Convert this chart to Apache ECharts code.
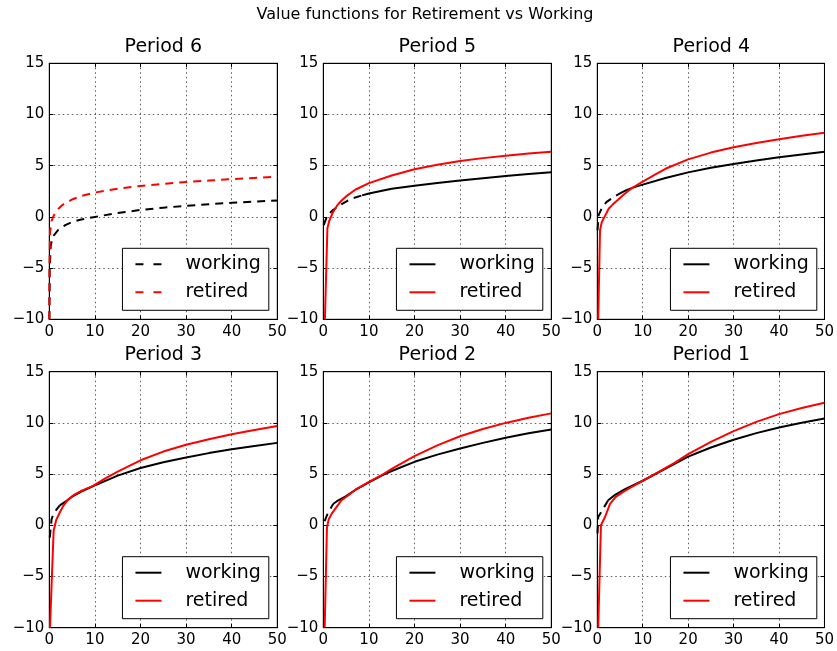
<!DOCTYPE html>
<html><head><meta charset="utf-8">
<script src="https://cdn.jsdelivr.net/npm/echarts@6/dist/echarts.min.js"></script>
<style>html,body{margin:0;padding:0;background:#fff}#c{width:837px;height:651px}</style>
</head><body><div id="c"></div>
<script>
const SUPTITLE = 'Value functions for Retirement vs Working';
const PERIODS = ['Period 6', 'Period 5', 'Period 4', 'Period 3', 'Period 2', 'Period 1'];
const LEGEND_LABELS = ['working', 'retired'];
const X_MIN = 0, X_MAX = 50, X_STEP = 10;
const Y_MIN = -10, Y_MAX = 15, Y_STEP = 5;

// working value function, pairs [wealth, value]
const work6 = [[0.02,-10],[0.1,-5.0],[0.3,-2.9],[0.6,-2.2],[1,-1.8],[2,-1.25],[3.5,-0.8],[5,-0.5],[7,-0.25],[10,0],[15,0.38],[20,0.68],[25,0.9],[30,1.08],[35,1.24],[40,1.37],[45,1.49],[50,1.6]];
const work5 = [[0.1,-0.8],[0.75,0.0],[1.5,0.4],[2.2,0.7],[3.7,1.16],[5.2,1.55],[7,1.9],[8.5,2.1],[10,2.28],[15,2.75],[20,3.05],[25,3.32],[30,3.56],[35,3.78],[40,3.99],[45,4.18],[50,4.35]];
const work4 = [[0.05,-1.3],[0.3,0.2],[1,0.85],[2,1.45],[3.5,1.9],[5,2.3],[6.4,2.62],[8,2.88],[10,3.15],[15,3.8],[20,4.35],[25,4.8],[30,5.17],[35,5.5],[40,5.82],[45,6.1],[50,6.37]];
const work3 = [[0.1,-1.2],[0.5,0.6],[1,1.2],[2.3,1.95],[3.8,2.4],[5,2.8],[7,3.3],[10,3.9],[15,4.85],[20,5.6],[25,6.15],[30,6.62],[35,7.05],[40,7.42],[45,7.75],[50,8.05]];
const work2 = [[0.3,0.4],[1,1.2],[2.2,2.1],[3,2.35],[4,2.6],[5,2.85],[7,3.45],[10,4.2],[13,4.9],[15,5.3],[20,6.2],[25,6.9],[30,7.5],[35,8.05],[40,8.55],[45,8.98],[50,9.36]];
const work1 = [[0.05,-0.8],[0.2,0.8],[1,1.4],[2.4,2.45],[4,3.0],[6,3.5],[10,4.35],[14,5.3],[17,6.0],[20,6.7],[25,7.6],[30,8.35],[35,9.0],[40,9.56],[45,10.02],[50,10.44]];

// retired value function, pairs [wealth, value]
const ret6 = [[0.01,-10],[0.05,-4.5],[0.15,-1.5],[0.5,-0.4],[1,0.15],[2,0.8],[3,1.2],[5,1.7],[7,2.05],[10,2.38],[15,2.75],[20,3.02],[25,3.23],[30,3.41],[35,3.55],[40,3.68],[45,3.8],[50,3.92]];
const ret5 = [[0.35,-10],[0.9,-1.1],[1.3,-0.4],[2,0.35],[3,1.1],[4,1.6],[5,2.0],[7,2.65],[10,3.3],[15,4.05],[20,4.65],[25,5.1],[30,5.46],[35,5.74],[40,5.97],[45,6.18],[50,6.37]];
const ret4 = [[0.2,-10],[0.6,-1.3],[1,-0.5],[1.7,0.1],[2.5,0.8],[3.5,1.25],[4.5,1.65],[5.7,2.14],[7,2.6],[8,2.92],[10,3.45],[13,4.2],[15,4.7],[20,5.62],[25,6.28],[30,6.8],[35,7.22],[40,7.58],[45,7.92],[50,8.22]];
const ret3 = [[0.15,-10],[0.95,-0.55],[1.5,0.5],[2.35,1.3],[3,1.85],[4,2.45],[5.3,2.94],[7,3.35],[9.6,3.85],[12,4.5],[15,5.25],[20,6.35],[25,7.2],[30,7.86],[35,8.4],[40,8.9],[45,9.3],[50,9.69]];
const ret2 = [[0.3,-10],[0.8,-0.2],[1.2,0.6],[1.85,1.14],[3,1.85],[4,2.45],[5,2.77],[7,3.45],[10,4.24],[13,4.96],[15,5.5],[20,6.75],[25,7.8],[30,8.7],[35,9.4],[40,10.0],[45,10.5],[50,10.93]];
const ret1 = [[0.2,-10],[0.8,0.0],[1.7,0.81],[2.8,2.1],[4,2.75],[5.7,3.26],[7,3.6],[10,4.35],[14,5.35],[17,6.1],[20,6.95],[25,8.15],[30,9.2],[35,10.1],[40,10.86],[45,11.45],[50,11.97]];

// wealth from which the working curve is drawn solid (null = dashed throughout)
const SOLID_FROM = [null, 8.5, 5, 2.3, 2.2, 2.4];

const WORK = [work6, work5, work4, work3, work2, work1];
const RET = [ret6, ret5, ret4, ret3, ret2, ret1];

// ---- layout ----
const W = 837, H = 651;
const COL_LEFT = [49.3, 323.3, 597.3];
const ROW_TOP = [63.3, 371.7];
const GW = 228, GH = 256;
const FONT = 'DejaVu Sans';
const BLACK = '#000000', RED = '#ff0000';
const DASH = [8, 6];
const DASH_ICON = 'path://M0,0H8V2H0ZM18,0H26V2H18Z';

const grids = [], xAxes = [], yAxes = [], series = [], legends = [], titles = [];
titles.push({ text: SUPTITLE, left: 425, top: 7, textAlign: 'center', padding: 0,
  textStyle: { fontFamily: FONT, fontSize: 16, fontWeight: 'normal', color: BLACK } });

const minus = v => String(v).replace('-', '\u2212');

for (let i = 0; i < 6; i++) {
  const r = Math.floor(i / 3), c = i % 3;
  const left = COL_LEFT[c], top = ROW_TOP[r];
  grids.push({ left, top, width: GW, height: GH, show: true, borderColor: BLACK, borderWidth: 1, backgroundColor: '#fff', containLabel: false });
  titles.push({ text: PERIODS[i], left: left + GW / 2, top: top - 26, textAlign: 'center', padding: 0,
    textStyle: { fontFamily: FONT, fontSize: 19, fontWeight: 'normal', color: BLACK } });
  const tick = { show: true, inside: true, length: 4, lineStyle: { color: BLACK, width: 1 } };
  const split = { show: true, lineStyle: { color: '#333', width: 0.8, type: [1.5, 3] } };
  xAxes.push({ gridIndex: i, type: 'value', min: X_MIN, max: X_MAX, interval: X_STEP, position: 'bottom',
    axisLine: { show: true, onZero: false, lineStyle: { color: BLACK } }, axisTick: tick, splitLine: split,
    axisLabel: { show: true, margin: 5, fontFamily: FONT, fontSize: 15, color: BLACK, formatter: minus } });
  xAxes.push({ gridIndex: i, type: 'value', min: X_MIN, max: X_MAX, interval: X_STEP, position: 'top',
    axisLine: { show: true, onZero: false, lineStyle: { color: BLACK } }, axisTick: tick, splitLine: { show: false }, axisLabel: { show: false } });
  yAxes.push({ gridIndex: i, type: 'value', min: Y_MIN, max: Y_MAX, interval: Y_STEP, position: 'left',
    axisLine: { show: true, onZero: false, lineStyle: { color: BLACK } }, axisTick: tick, splitLine: split,
    axisLabel: { show: true, margin: 5, fontFamily: FONT, fontSize: 15, color: BLACK, formatter: minus } });
  yAxes.push({ gridIndex: i, type: 'value', min: Y_MIN, max: Y_MAX, interval: Y_STEP, position: 'right',
    axisLine: { show: true, onZero: false, lineStyle: { color: BLACK } }, axisTick: tick, splitLine: { show: false }, axisLabel: { show: false } });

  const xi = 2 * i, yi = 2 * i;
  const base = { type: 'line', xAxisIndex: xi, yAxisIndex: yi, symbol: 'none', showSymbol: false, clip: true,
    animation: false, silent: true, smooth: false };
  const t = SOLID_FROM[i];
  const wName = i + '|working', rName = i + '|retired';
  let icon;
  if (t === null) {
    series.push(Object.assign({}, base, { name: wName, data: WORK[i], lineStyle: { color: BLACK, width: 2, type: DASH }, itemStyle: { color: BLACK } }));
    series.push(Object.assign({}, base, { name: rName, data: RET[i], lineStyle: { color: RED, width: 2, type: DASH }, itemStyle: { color: RED } }));
    icon = DASH_ICON;
  } else {
    series.push(Object.assign({}, base, { name: i + '|working-low', data: WORK[i].filter(p => p[0] <= t), lineStyle: { color: BLACK, width: 2, type: DASH }, itemStyle: { color: BLACK } }));
    series.push(Object.assign({}, base, { name: wName, data: WORK[i].filter(p => p[0] >= t), lineStyle: { color: BLACK, width: 2 }, itemStyle: { color: BLACK } }));
    series.push(Object.assign({}, base, { name: rName, data: RET[i], lineStyle: { color: RED, width: 2 }, itemStyle: { color: RED } }));
    icon = 'rect';
  }
  legends.push({
    data: [{ name: wName, icon, itemStyle: { color: BLACK } }, { name: rName, icon, itemStyle: { color: RED } }],
    orient: 'vertical', right: W - (left + GW - 8.5), bottom: H - (top + GH - 9),
    itemWidth: 26, itemHeight: 2, itemGap: 6, padding: [5, 8, 7, 13],
    backgroundColor: '#fff', borderColor: BLACK, borderWidth: 1, borderRadius: 0,
    selectedMode: false,
    formatter: n => n.split('|')[1],
    textStyle: { fontFamily: FONT, fontSize: 19, color: BLACK, lineHeight: 22, padding: [0, 0, 0, 19] }
  });
}

const chart = echarts.init(document.getElementById('c'), null, { renderer: 'canvas' });
chart.setOption({ animation: false, backgroundColor: '#fff', title: titles, grid: grids, xAxis: xAxes, yAxis: yAxes, legend: legends, series });
</script></body></html>
